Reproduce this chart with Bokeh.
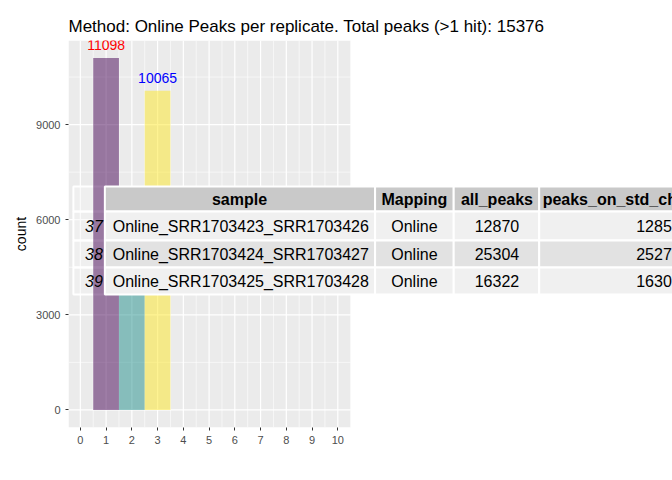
from bokeh.plotting import figure
from bokeh.models import FixedTicker, Range1d, Label
from bokeh.core.properties import value
from bokeh.embed import file_html
from bokeh.resources import INLINE

# histogram data
hits = [1, 2, 3]
counts = [11098, 5311, 10065]
bar_colors = ["#440154", "#21908C", "#FDE725"]
label_hits = [1, 3]
label_counts = [11098, 10065]
label_colors = ["red", "blue"]

# table data
row_names = ["37", "38", "39"]
samples = ["Online_SRR1703423_SRR1703426", "Online_SRR1703424_SRR1703427",
           "Online_SRR1703425_SRR1703428"]
mapping = ["Online", "Online", "Online"]
all_peaks = ["12870", "25304", "16322"]
peaks_std = ["12851", "25271", "16301"]
headers = ["sample", "Mapping", "all_peaks", "peaks_on_std_chr"]

FONT = value("Liberation Sans")


def px_x(px):
    return -0.46 + (px - 68) / 26.2


def px_y(py):
    return -555 + (427 - py) * 31.545


p = figure(width=672, height=480, output_backend="svg", toolbar_location=None,
           x_range=Range1d(-0.46, 23.0), y_range=Range1d(-555, 11653),
           min_border_left=68, min_border_top=40, min_border_bottom=53, min_border_right=0,
           title="Method: Online Peaks per replicate. Total peaks (>1 hit): 15376")
p.title.text_font = "Liberation Sans"
p.title.text_font_size = "17px"
p.title.text_font_style = "normal"
p.title.text_color = "black"
p.title.offset = 0
p.outline_line_color = None
p.background_fill_color = "white"
p.xgrid.visible = False
p.ygrid.visible = False

# panel background + grid
p.quad(left=[-0.46], right=[10.5], bottom=[-555], top=[11653], fill_color="#EBEBEB", line_color=None)
minor_x = [i + 0.5 for i in range(0, 11)]
p.segment(x0=minor_x, y0=-555, x1=minor_x, y1=11653, line_color="white", line_width=0.6)
p.segment(x0=list(range(11)), y0=-555, x1=list(range(11)), y1=11653, line_color="white", line_width=1.2)
p.segment(x0=-0.46, y0=[1500, 4500, 7500, 10500], x1=10.5, y1=[1500, 4500, 7500, 10500],
          line_color="white", line_width=0.6)
p.segment(x0=-0.46, y0=[0, 3000, 6000, 9000], x1=10.5, y1=[0, 3000, 6000, 9000],
          line_color="white", line_width=1.2)

# row-name cells (see-through) under the bars
top_edges = [px_y(211), px_y(240), px_y(267)]
bot_edges = [px_y(240), px_y(267), px_y(294)]
p.quad(left=px_x(73), right=px_x(105), top=top_edges, bottom=bot_edges,
       fill_color="#F4F4F4", fill_alpha=0.4, line_color="white", line_width=2)
p.quad(left=px_x(73), right=px_x(105), top=px_y(186), bottom=px_y(211),
       fill_color="#F4F4F4", fill_alpha=0.4, line_color="white", line_width=2)

p.quad(left=[h - 0.5 for h in hits], right=[h + 0.5 for h in hits], bottom=0, top=counts,
       fill_color=bar_colors, fill_alpha=0.5, line_color=None)
p.text(x=label_hits, y=[c + 250 for c in label_counts], text=[str(c) for c in label_counts],
       text_color=label_colors, text_align="center", text_baseline="bottom",
       text_font=FONT, text_font_size="14px")

# table cells
col_edges = [px_x(105), px_x(380), px_x(460), px_x(547), px_x(697)]
p.quad(left=col_edges[:-1], right=col_edges[1:], top=px_y(186), bottom=px_y(211),
       fill_color="#C9C9C9", line_color="white", line_width=2)
row_fills = ["#F0F0F0", "#E2E2E2", "#F0F0F0"]
for i in range(3):
    p.quad(left=col_edges[:-1], right=col_edges[1:], top=top_edges[i], bottom=bot_edges[i],
           fill_color=row_fills[i], line_color="white", line_width=2)

hy = px_y(198.5)
p.text(x=[px_x(242), px_x(420), px_x(504), px_x(622)], y=hy, text=headers,
       text_align="center", text_baseline="middle", text_font=FONT,
       text_font_size="16px", text_font_style="bold")
ry = [px_y(225.5), px_y(253.5), px_y(280.5)]
p.text(x=px_x(103), y=ry, text=row_names, text_align="right", text_baseline="middle",
       text_font=FONT, text_font_size="16px", text_font_style="italic")
p.text(x=px_x(113), y=ry, text=samples, text_align="left", text_baseline="middle",
       text_font=FONT, text_font_size="16px")
p.text(x=px_x(420), y=ry, text=mapping, text_align="center", text_baseline="middle",
       text_font=FONT, text_font_size="16px")
p.text(x=px_x(504), y=ry, text=all_peaks, text_align="center", text_baseline="middle",
       text_font=FONT, text_font_size="16px")
p.text(x=px_x(691), y=ry, text=peaks_std, text_align="right", text_baseline="middle",
       text_font=FONT, text_font_size="16px")

# axes
for ax in (p.xaxis[0], p.yaxis[0]):
    ax.axis_line_color = None
    ax.major_tick_line_color = "#333333"
    ax.minor_tick_line_color = None
    ax.major_tick_in = 0
    ax.major_tick_out = 3
    ax.major_label_text_color = "#4D4D4D"
    ax.major_label_text_font = "Liberation Sans"
    ax.major_label_text_font_size = "11px"
    ax.axis_label_text_font = "Liberation Sans"
    ax.axis_label_text_font_size = "14px"
    ax.axis_label_text_font_style = "normal"
    ax.axis_label_text_color = "black"
    ax.axis_label_standoff = 4
p.xaxis.ticker = FixedTicker(ticks=list(range(11)))
p.yaxis.ticker = FixedTicker(ticks=[0, 3000, 6000, 9000])
p.yaxis.axis_label = "count"
p.add_layout(Label(x=5, y=px_y(456), text="hits", text_align="center", text_baseline="middle",
                   text_font="Liberation Sans", text_font_size="14px", text_color="black"))

open("out.html", "w").write(file_html(p, INLINE))
